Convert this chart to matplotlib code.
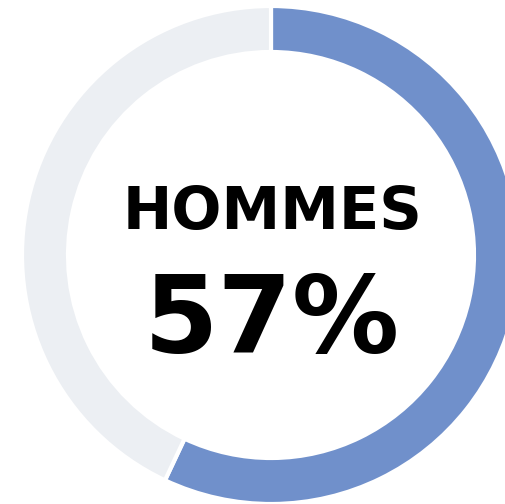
import matplotlib
import matplotlib.pyplot as plt

matplotlib.use("Agg")

# ── data ──────────────────────────────────────────────────────────────────────
labels = ["Hommes", "Femmes"]
shares = [57, 43]
colors = ["#7090CB", "#ECEFF3"]
title = "HOMMES"

# ── figure: axes in pixel units ───────────────────────────────────────────────
W, H = 505, 504
fig = plt.figure(figsize=(W / 100, H / 100), dpi=100)
ax = fig.add_axes([0, 0, 1, 1])

cx, cy = 271, 249
outer = 249

ax.pie(
    shares,
    colors=colors,
    startangle=90,
    counterclock=False,
    radius=outer,
    center=(cx, cy),
    wedgeprops=dict(width=46, edgecolor="white", linewidth=3),
    frame=True,
)
ax.set_xlim(0, W)
ax.set_ylim(0, H)
ax.set_aspect("equal")
ax.axis("off")

ax.text(cx + 2, 291, title, ha="center", va="center",
        fontsize=42.5, fontweight="bold", family="DejaVu Sans")
ax.text(cx + 1, 181, f"{shares[0]}%", ha="center", va="center",
        fontsize=77, fontweight="bold", family="DejaVu Sans")

fig.savefig("out.png", dpi=100)
